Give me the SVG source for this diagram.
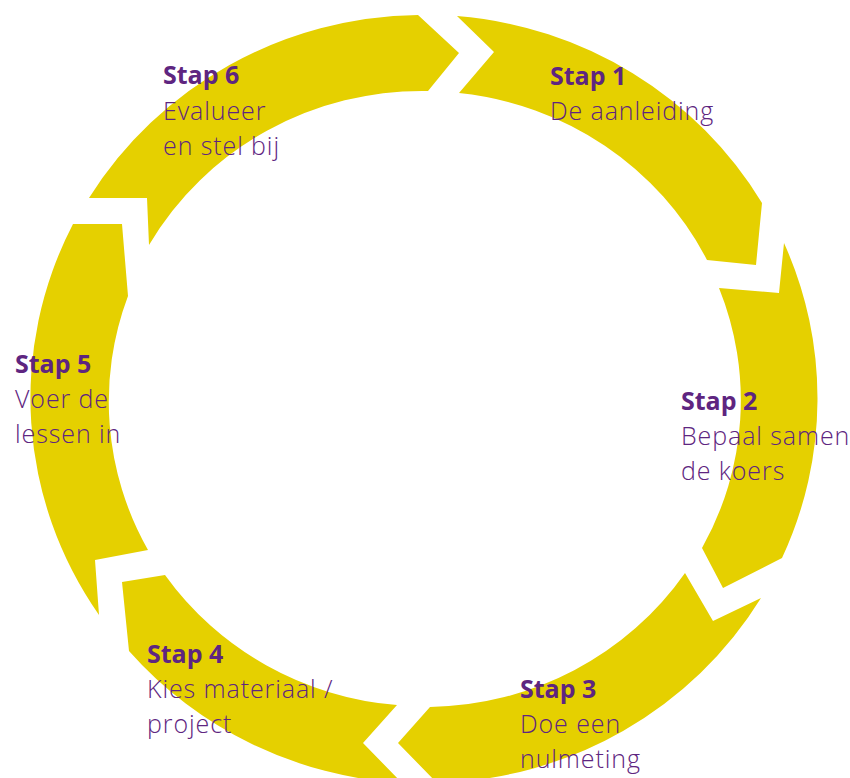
<svg xmlns="http://www.w3.org/2000/svg" width="850" height="778" viewBox="0 0 850 778">
<style>
.arrow{fill:#E5D000;stroke:none}
text{font-family:"Open Sans","Noto Sans","Liberation Sans",sans-serif;font-size:25px;fill:#5E2580}
.h{font-weight:700}
.b{font-weight:300;letter-spacing:0.9px}
</style>
<rect width="850" height="778" fill="#FFFFFF"/>
<g id="connectors">
<path id="arrow1" class="arrow" d="M457,16 A392,384 0 0 1 762,203 L756,265 L707,260 A315,307 0 0 0 459,93 L494,52 Z"/>
<path id="arrow2" class="arrow" d="M784,243 A392,384 0 0 1 782,558 L723,588 L702,548 A315,307 0 0 0 719,288 L779,293 Z"/>
<path id="arrow3" class="arrow" d="M761,598 A392,384 0 0 1 437,783 L398,743 L430,707 A315,307 0 0 0 685,573 L713,621 Z"/>
<path id="arrow4" class="arrow" d="M402,783 A392,384 0 0 1 129,651 L122,582 L165,575 A315,307 0 0 0 397,705 L363,743 Z"/>
<path id="arrow5" class="arrow" d="M99,615 A392,384 0 0 1 73,224 L122,224 L128,296 A315,307 0 0 0 148,550 L95,560 Z"/>
<path id="arrow6" class="arrow" d="M89,198 A392,384 0 0 1 418,15 L459,53 L428,91 A315,307 0 0 0 149,245 L147,198 Z"/>
</g>
<g id="step1"><text x="550" y="85" class="h">Stap 1</text><text x="550" y="120" class="b">De aanleiding</text></g>
<g id="step2"><text x="681" y="410" class="h">Stap 2</text><text x="681" y="445" class="b">Bepaal samen</text><text x="681" y="480" class="b">de koers</text></g>
<g id="step3"><text x="520" y="698" class="h">Stap 3</text><text x="520" y="733" class="b">Doe een</text><text x="520" y="768" class="b">nulmeting</text></g>
<g id="step4"><text x="147" y="663" class="h">Stap 4</text><text x="147" y="698" class="b">Kies materiaal /</text><text x="147" y="733" class="b">project</text></g>
<g id="step5"><text x="15" y="373" class="h">Stap 5</text><text x="15" y="408" class="b">Voer de</text><text x="15" y="443" class="b">lessen in</text></g>
<g id="step6"><text x="163" y="84" class="h">Stap 6</text><text x="163" y="120" class="b">Evalueer</text><text x="163" y="155" class="b">en stel bij</text></g>
</svg>
